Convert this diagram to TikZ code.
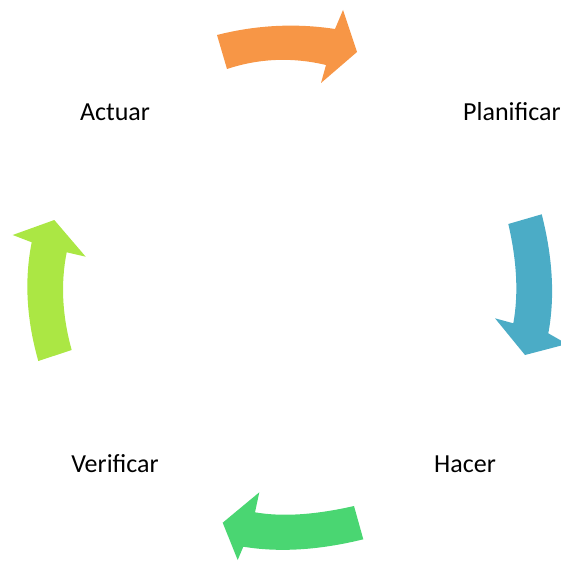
\documentclass[tikz,border=0pt]{standalone}
\usepackage{fontspec}
\setmainfont{Carlito}
\definecolor{cOrange}{HTML}{F79646}
\definecolor{cBlue}{HTML}{4BACC6}
\definecolor{cGreen}{HTML}{4AD672}
\definecolor{cLime}{HTML}{ABE744}
\begin{document}
\begin{tikzpicture}[x=1pt,y=-1pt,
  lbl/.style={font=\fontsize{26}{30}\selectfont, inner sep=0pt, anchor=center},
  arr/.style={draw=none}]
\useasboundingbox (0,0) rectangle (561,561);
\clip (0,0) rectangle (561,561);
% orange arrow (top)
\fill[arr,cOrange] (217,35) .. controls (256.3,25) and (295.7,23) .. (335,29) -- (343,10) -- (357,52) -- (321,83) -- (326,65)
  .. controls (292.3,57) and (259.3,58.3) .. (227,69) -- cycle;
% blue arrow (right)
\fill[arr,cBlue] (508.3,224) -- (541.7,214.3) .. controls (552.8,257.8) and (555.0,297.5) .. (548.3,333.3) -- (567,344) -- (525,355)
  -- (495,318.3) -- (513.3,323.3) .. controls (518.6,294.2) and (516.9,261.1) .. (508.3,224) -- cycle;
% green arrow (bottom)
\fill[arr,cGreen] (354,506) -- (363.3,539.3) .. controls (318.9,550.2) and (278.9,552.6) .. (243.3,546.7) -- (237.7,560)
  -- (222.7,522.7) -- (259.3,492.3) -- (255,512.3) .. controls (282,517.0) and (315,514.9) .. (354,506) -- cycle;
% lime arrow (left)
\fill[arr,cLime] (38.3,361) -- (71.7,350) .. controls (62.2,315.9) and (60.5,283.3) .. (66.7,252.3) -- (85.7,256.7)
  -- (54.3,220) -- (12.7,235) -- (31.7,242.3) .. controls (24.2,279.6) and (26.4,319.2) .. (38.3,361) -- cycle;
% labels
\node[lbl] (actuar) at (115,112) {Actuar};
\node[lbl] (planificar) at (512,112) {Planificar};
\node[lbl] (hacer) at (465,464) {Hacer};
\node[lbl] (verificar) at (115,464) {Verificar};
\end{tikzpicture}
\end{document}
